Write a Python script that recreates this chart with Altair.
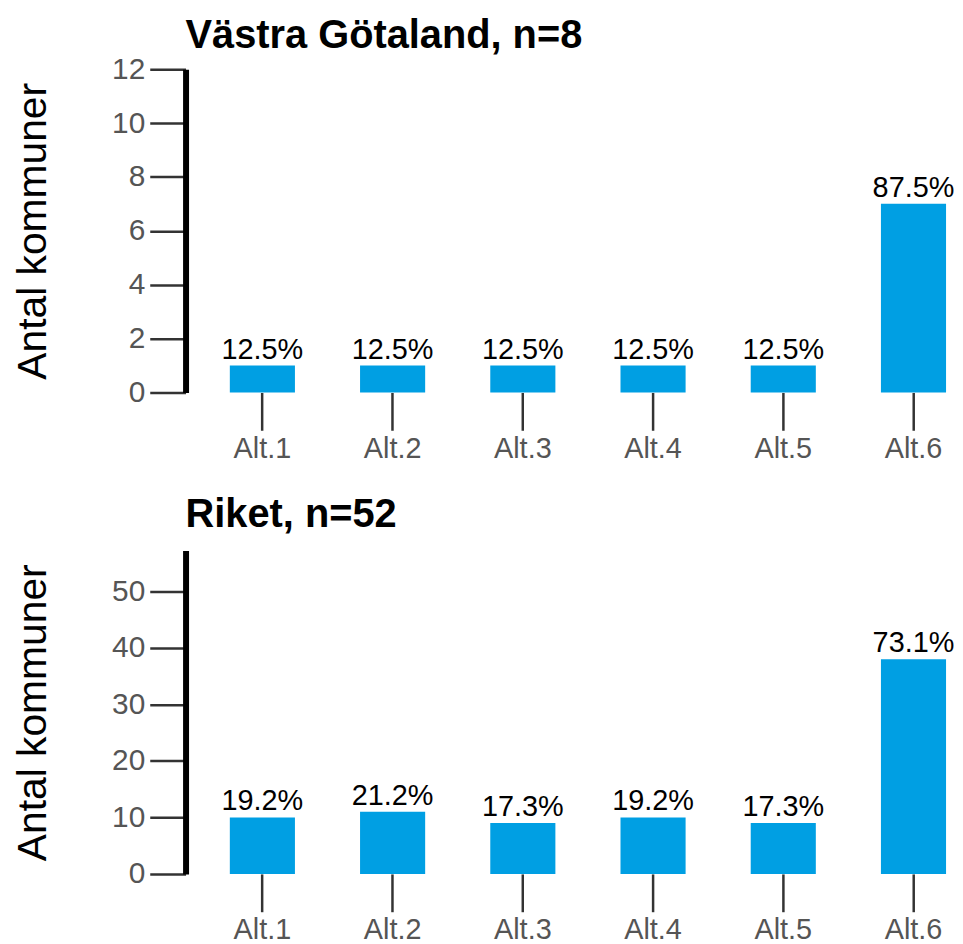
import altair as alt
import pandas as pd

categories = ["Alt.1", "Alt.2", "Alt.3", "Alt.4", "Alt.5", "Alt.6"]

vg_title = "Västra Götaland, n=8"
vg_counts = [1, 1, 1, 1, 1, 7]
vg_pct = ["12.5%", "12.5%", "12.5%", "12.5%", "12.5%", "87.5%"]
vg_ticks = [0, 2, 4, 6, 8, 10, 12]
vg_max = 12

riket_title = "Riket, n=52"
riket_counts = [10, 11, 9, 10, 9, 38]
riket_pct = ["19.2%", "21.2%", "17.3%", "19.2%", "17.3%", "73.1%"]
riket_ticks = [0, 10, 20, 30, 40, 50]
riket_max = 57.2

FONT = "Liberation Sans"
BAR = "#009fe3"


def panel(title, counts, pct, ticks, ymax, title_offset):
    df = pd.DataFrame({"alt": categories, "n": counts, "pct": pct})
    base = alt.Chart(df).encode(
        x=alt.X(
            "alt:N",
            sort=categories,
            scale=alt.Scale(paddingInner=0.5, paddingOuter=0.0),
            axis=alt.Axis(
                title=None,
                domain=False,
                labelAngle=0,
                labelFont=FONT,
                labelFontSize=29,
                labelColor="#555555",
                labelPadding=4,
                tickSize=38,
                tickWidth=2.5,
                tickColor="#333333",
                grid=False,
            ),
        ),
        y=alt.Y(
            "n:Q",
            scale=alt.Scale(domain=[0, ymax], nice=False),
            axis=alt.Axis(
                values=ticks,
                title="Antal kommuner",
                titleFont=FONT,
                titleFontSize=41,
                titleFontWeight="normal",
                titleColor="black",
                titlePadding=57,
                labelFont=FONT,
                labelFontSize=30,
                labelColor="#555555",
                labelPadding=5,
                tickSize=36,
                tickWidth=2.5,
                tickColor="#333333",
                domainColor="black",
                domainWidth=6,
                grid=False,
                offset=44.5,
            ),
        ),
    )
    bars = base.mark_bar(color=BAR)
    labels = base.mark_text(
        font=FONT, fontSize=29, color="black", baseline="alphabetic", dy=-7
    ).encode(text="pct:N")
    return (bars + labels).properties(
        width=720,
        height=325,
        title=alt.TitleParams(
            text=title,
            font=FONT,
            fontSize=40,
            fontWeight="bold",
            color="black",
            anchor="start",
            frame="group",
            dx=-44.5,
            offset=title_offset,
        ),
    )


top = panel(vg_title, vg_counts, vg_pct, vg_ticks, vg_max, -2)
bottom = panel(riket_title, riket_counts, riket_pct, riket_ticks, riket_max, 16)

chart = (
    alt.vconcat(top, bottom, spacing=32)
    .properties(padding={"left": 5, "top": 6, "right": 0, "bottom": 5})
    .configure_view(stroke=None)
)

chart.save("out.html", embed_options={"renderer": "svg", "actions": False})
